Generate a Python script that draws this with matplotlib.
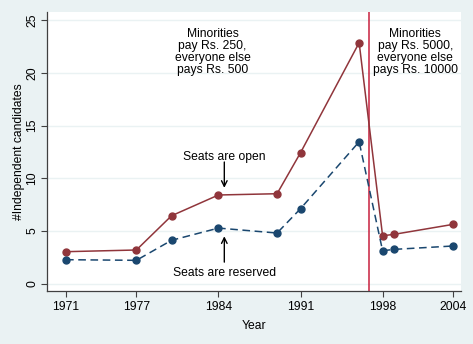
import matplotlib
matplotlib.use("Agg")
import matplotlib.pyplot as plt

plt.rcParams['font.family'] = ['Liberation Sans', 'DejaVu Sans']

# data
years = [1971, 1977, 1980, 1984, 1989, 1991, 1996, 1998, 1999, 2004]
open_seats = [3.04, 3.2, 6.45, 8.42, 8.54, 12.43, 22.87, 4.55, 4.69, 5.63]
reserved_seats = [2.28, 2.22, 4.12, 5.28, 4.81, 7.12, 13.47, 3.13, 3.26, 3.58]
xticks = [1971, 1977, 1984, 1991, 1998, 2004]
yticks = [0, 5, 10, 15, 20, 25]
rule_change = 1996.8

red = '#90353b'
navy = '#1a476f'
bg = '#eaf2f3'

fig = plt.figure(figsize=(4.73, 3.44), dpi=100, facecolor=bg)
ax = fig.add_axes([0.0987, 0.155, 0.875, 0.81])
ax.set_facecolor('white')

ax.plot(years, open_seats, color=red, lw=1.1, marker='o', ms=5, zorder=3)
ax.plot(years, reserved_seats, color=navy, lw=1.1, ls=(0, (5, 3)),
        marker='o', ms=5, zorder=3)
ax.axvline(rule_change, color='#c8203e', lw=1.1, zorder=2)

ax.set_xlim(1969.35, 2004.65)
ax.set_ylim(-0.66, 25.78)
ax.set_xticks(xticks)
ax.set_yticks(yticks)
ax.grid(axis='y', color=bg, lw=1.0)
ax.set_axisbelow(True)

for s in ['top', 'right']:
    ax.spines[s].set_visible(False)
for s in ['left', 'bottom']:
    ax.spines[s].set_color('#404040')
    ax.spines[s].set_linewidth(0.9)

ax.tick_params(axis='both', labelsize=8.7, color='#404040', length=4, width=0.8)
ax.tick_params(axis='y', pad=2)
plt.setp(ax.get_yticklabels(), rotation=90, va='center')

ax.set_xlabel('Year', fontsize=8.7, labelpad=5)
ax.set_ylabel('#Independent candidates', fontsize=8.7, labelpad=1)

ax.text(1983.5, 22.0, 'Minorities\npay Rs. 250,\neveryone else\npays Rs. 500',
        ha='center', va='center', fontsize=8.7, linespacing=0.98)
ax.text(2000.8, 22.0, 'Minorities\npay Rs. 5000,\neveryone else\npays Rs. 10000',
        ha='center', va='center', fontsize=8.7, linespacing=0.98)

ax.text(1984.5, 12.05, 'Seats are open', ha='center', va='center', fontsize=8.7)
ax.annotate('', xy=(1984.5, 9.1), xytext=(1984.5, 11.55),
            arrowprops=dict(arrowstyle='->', color='black', lw=1.0,
                            shrinkA=0, shrinkB=0))
ax.text(1984.5, 1.0, 'Seats are reserved', ha='center', va='center', fontsize=8.7)
ax.annotate('', xy=(1984.5, 4.5), xytext=(1984.5, 2.05),
            arrowprops=dict(arrowstyle='->', color='black', lw=1.0,
                            shrinkA=0, shrinkB=0))

fig.savefig('out.png', dpi=100, facecolor=bg)
